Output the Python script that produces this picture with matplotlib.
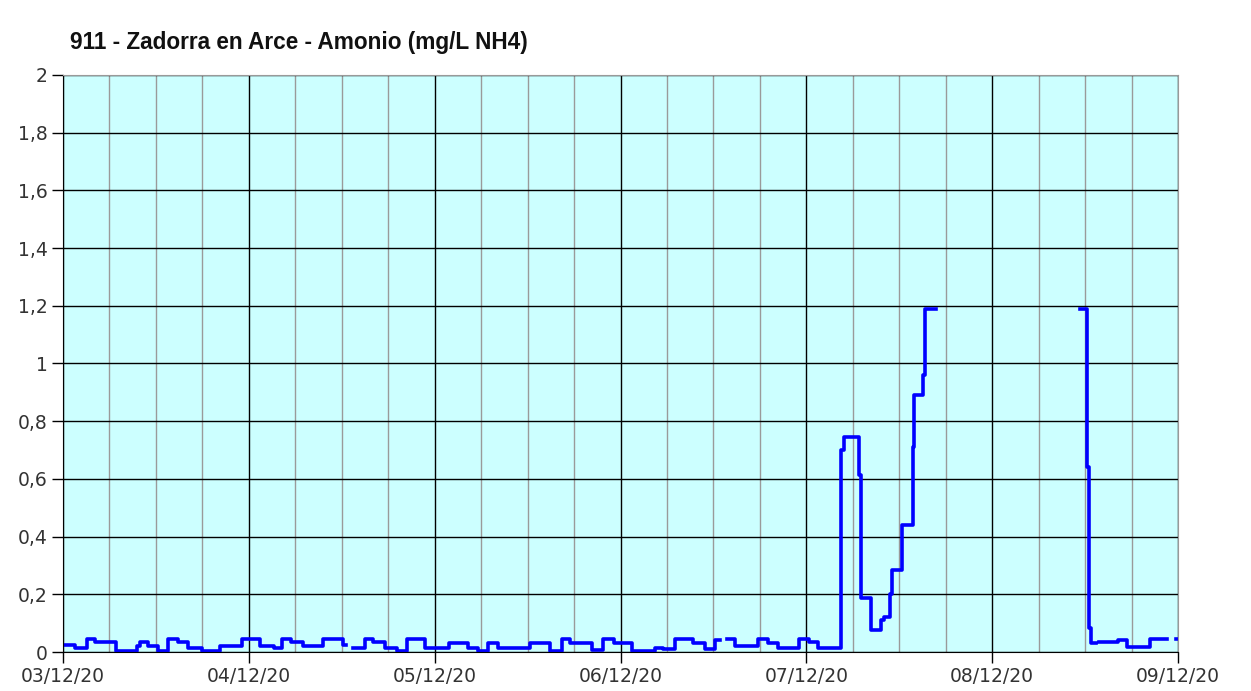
import numpy as np
import matplotlib
matplotlib.use("Agg")
import matplotlib.pyplot as plt
import matplotlib.dates as mdates
from matplotlib.ticker import MultipleLocator, FuncFormatter
from datetime import datetime, timedelta

# step start (hours since 03/12/20 00:00) and value (mg/L NH4); nan = no data
horas = [0, 1.6, 3.1, 4.1, 6.9, 9.5, 10, 11, 12.3, 13.6, 14.9, 16.1, 17.9, 20.3,
         23.1, 25.5, 27.2, 28.3, 29.5, 31, 33.6, 36.2, 36.6, 37.5, 39, 40, 41.6,
         43.1, 44.4, 46.8, 49.8, 52.3, 53.6, 54.9, 56.2, 60.3, 62.9, 64.4, 65.5,
         68.3, 69.8, 71.1, 73.5, 76.5, 77.5, 79, 81.4, 82.9, 84.2, 84.9, 85.8,
         86.8, 89.8, 91.1, 92.4, 95, 96.3, 97.5, 100.5, 100.8, 102.8, 103.0,
         104.3, 105.6, 106, 106.8, 107.1, 108.3, 109.8, 109.9, 111.1, 111.3,
         112.7, 131.3, 132.3, 132.5, 132.7, 133.4, 133.8, 136.3, 137.4, 140.4,
         142.6, 143.8, 144]
amonio = [0.025, 0.015, 0.045, 0.035, 0.005, 0.02, 0.035, 0.02, 0.005, 0.045,
          0.035, 0.015, 0.005, 0.02, 0.045, 0.02, 0.015, 0.045, 0.035, 0.02,
          0.045, 0.025, np.nan, 0.015, 0.045, 0.035, 0.015, 0.005, 0.045, 0.015,
          0.03, 0.015, 0.005, 0.03, 0.015, 0.03, 0.005, 0.045, 0.03, 0.008,
          0.045, 0.03, 0.005, 0.015, 0.01, 0.045, 0.03, 0.012, 0.04, np.nan,
          0.045, 0.02, 0.045, 0.03, 0.015, 0.045, 0.033, 0.015, 0.70, 0.746,
          0.613, 0.187, 0.076, 0.11, 0.122, 0.2, 0.284, 0.44, 0.71, 0.89, 0.96,
          1.19, np.nan, 1.19, 0.64, 0.083, 0.032, np.nan, 0.033, 0.04, 0.017,
          0.045, np.nan, 0.045, 0.045]

inicio = datetime(2020, 12, 3)
fechas = [inicio + timedelta(hours=h) for h in horas]

fig = plt.figure(figsize=(12.51, 6.91), dpi=100, facecolor="white")
ax = fig.add_axes([63 / 1251, 39 / 691, 1115 / 1251, 577 / 691])
ax.set_facecolor("#CCFFFF")

ax.plot(fechas, amonio, drawstyle="steps-post", color="#0000FF", lw=2.6)

ax.set_xlim(inicio, inicio + timedelta(days=6))
ax.set_ylim(0, 2)

ax.xaxis.set_major_locator(mdates.DayLocator())
ax.xaxis.set_minor_locator(mdates.HourLocator(byhour=[6, 12, 18]))
ax.xaxis.set_major_formatter(mdates.DateFormatter("%d/%m/%y"))
ax.yaxis.set_major_locator(MultipleLocator(0.2))
ax.yaxis.set_major_formatter(FuncFormatter(lambda v, p: f"{v:.1f}".rstrip("0").rstrip(".").replace(".", ",")))

ax.grid(which="major", axis="both", color="black", lw=1)
ax.grid(which="minor", axis="x", color="#9a9a9a", lw=1)
ax.set_axisbelow(True)

ax.tick_params(which="major", length=8, width=1, color="black", labelsize=13.5,
               labelcolor="#333333", pad=3)
ax.tick_params(which="minor", length=0)

for s in ["left", "bottom"]:
    ax.spines[s].set_color("black")
for s in ["top", "right"]:
    ax.spines[s].set_color("#999999")

fig.text(70 / 1251, 1 - 42 / 691, "911 - Zadorra en Arce - Amonio (mg/L NH4)",
         family="Liberation Sans", weight="bold", fontsize=16.3, color="#111111",
         ha="left", va="center")

fig.savefig("out.png", dpi=100)
